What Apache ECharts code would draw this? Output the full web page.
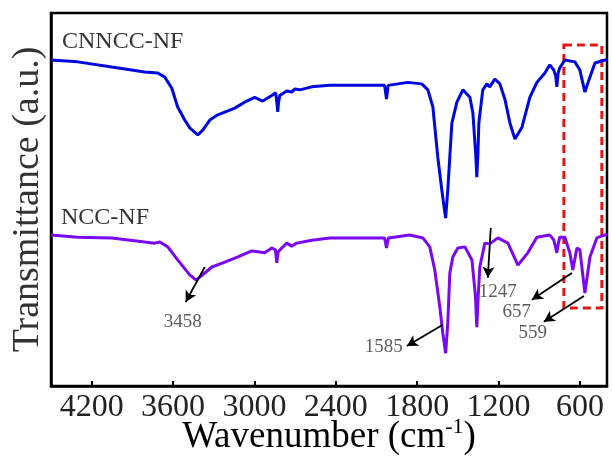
<!DOCTYPE html>
<html lang="en">
<head>
  <meta charset="UTF-8">
  <title>FTIR</title>
  <style type="text/css">
    * { margin: 0; padding: 0; }
    html, body { width: 100%; height: 100%; overflow: hidden; background: #fff; }
    #main { width: 612px; height: 459px; }
  </style>
  <script type="text/javascript" src="https://cdn.jsdelivr.net/npm/echarts@6/dist/echarts.min.js"></script>
</head>
<body>
<div id="main"></div>
<script type="text/javascript">
  // spectra: [wavenumber, transmittance (a.u.)]
  var cnnccNF = [[4500,87.4],[4303,86.9],[4052,85.5],[3809,84.2],[3713,83.9],[3661,82.8],[3610,79.9],[3566,74.8],
    [3514,71.3],[3477,69.2],[3418,67.3],[3381,68.6],[3329,71.3],[3270,72.7],[3145,74.5],[3057,76.4],[2998,77.4],
    [2939,76.4],[2872,77.9],[2843,78.6],[2833,75.5],[2828,73.5],[2822,76],[2813,77.9],[2762,79.1],[2725,78.8],
    [2703,79.6],[2666,79.4],[2577,80.2],[2444,80.6],[2040,80.6],[2026,76.9],[2014,80.6],[1869,81.4],[1766,81.0],
    [1721,79.4],[1684,74.8],[1648,61.4],[1618,52.5],[1590,45.0],[1574,52.5],[1544,70.5],[1507,76.1],[1463,79.4],
    [1411,77.4],[1389,73.2],[1368,62],[1360,56.0],[1352,62],[1345,70.5],[1316,79.4],[1286,81.0],[1264,80.2],
    [1227,82.3],[1190,81.0],[1153,76.9],[1116,70.5],[1079,66.2],[1027,69.4],[969,77.4],[917,81.4],[858,83.9],
    [822,86.1],[792,84.7],[778,83],[770,80.2],[760,84],[748,85.3],[711,87.4],[637,86.9],[600,84.7],[563,78.8],
    [534,82.0],[489,86.6],[416,87.4],[400,87.4]];

  var nccNF = [[4500,40.5],[4303,39.9],[4052,39.7],[3809,38.6],[3735,38.3],[3698,38.6],[3639,37.3],[3566,33.8],
    [3477,29.8],[3430,28.4],[3366,30.3],[3314,31.9],[3218,33.2],[3122,34.6],[3019,36.2],[2961,35.9],[2924,35.7],
    [2872,37.0],[2845,36.5],[2835,33.0],[2825,36],[2813,36.5],[2762,38.3],[2725,37.5],[2688,38.3],[2577,39.1],
    [2444,39.7],[2040,39.7],[2026,37.0],[2012,39.7],[1854,40.5],[1758,39.7],[1707,37.3],[1670,31.1],[1633,21.2],
    [1611,14.2],[1590,8.8],[1574,16.9],[1559,30.3],[1537,34.6],[1500,37.0],[1448,37.3],[1396,33.8],[1370,24],
    [1360,15.8],[1350,24],[1338,31.9],[1301,38.3],[1264,38.1],[1205,39.7],[1131,38.3],[1057,32.4],[984,35.7],
    [917,39.9],[822,40.5],[792,39.1],[778,37],[770,35.7],[760,38],[748,39.9],[711,39.9],[674,35.7],[652,31.1],
    [622,37.0],[600,36.5],[563,24.9],[526,34.6],[475,39.7],[416,40.5],[400,40.5]];

  var xTicks = [4200, 3600, 3000, 2400, 1800, 1200, 600];

  // peak labels and arrows (from -> to), in data units
  var peakLabels = [[3529,17.2,'3458'],[2046,10.5,'1585'],[1205,25.2,'1247'],[1065,19.8,'657'],[947,14.2,'559']];
  var peakArrows = [
    [[3366,31.9],[3507,22.5]],
    [[1611,16.4],[1876,10.7]],
    [[1257,42.4],[1279,29.0]],
    [[659,30.3],[954,23.1]],
    [[570,24.1],[866,17.2]]
  ];
  var boxCorners = [[718,91.4],[438,20.9]];

  var font = 'Liberation Serif';
  var myChart = echarts.init(document.getElementById('main'));

  var option = {
    animation: false,
    backgroundColor: '#fff',
    grid: {
      left: 51, right: 5, top: 13, bottom: 73,
      show: true, borderColor: '#000', borderWidth: 2.5,
      outerBoundsMode: 'none'
    },
    xAxis: {
      type: 'value',
      inverse: true,
      min: 400,
      max: 4500,
      name: 'Wavenumber (cm{sup|-1})',
      nameLocation: 'middle',
      nameGap: 30,
      nameMoveOverlap: false,
      nameTextStyle: {
        fontFamily: font, fontSize: 37, color: '#000',
        rich: { sup: { fontFamily: font, fontSize: 22, color: '#000', padding: [0, 0, 20, 0] } }
      },
      axisLine: { show: true, lineStyle: { color: '#000', width: 2.5 } },
      axisTick: { show: true, inside: true, length: 5, customValues: xTicks, lineStyle: { color: '#000', width: 2 } },
      axisLabel: {
        show: true, customValues: xTicks, margin: 6, fontFamily: font, fontSize: 32, color: '#222',
        formatter: function (v) { return String(v); }
      },
      splitLine: { show: false }
    },
    yAxis: {
      type: 'value',
      min: 0,
      max: 100,
      name: 'Transmittance (a.u.)',
      nameLocation: 'middle',
      nameGap: 4,
      nameMoveOverlap: false,
      nameTextStyle: { fontFamily: font, fontSize: 38, color: '#333' },
      axisLine: { show: true, lineStyle: { color: '#000', width: 2.5 } },
      axisTick: { show: false },
      axisLabel: { show: false },
      splitLine: { show: false }
    },
    graphic: [
      { type: 'text', left: 62, top: 30, style: { text: 'CNNCC-NF', fontFamily: font, fontSize: 24, fill: '#333' } },
      { type: 'text', left: 61, top: 206, style: { text: 'NCC-NF', fontFamily: font, fontSize: 24, fill: '#333' } }
    ],
    series: [
      {
        name: 'CNNCC-NF',
        type: 'line',
        data: cnnccNF,
        showSymbol: false,
        lineStyle: { color: '#0008e0', width: 3 }
      },
      {
        name: 'NCC-NF',
        type: 'line',
        data: nccNF,
        showSymbol: false,
        lineStyle: { color: '#7a08f0', width: 3 }
      },
      {
        name: 'peaks',
        type: 'scatter',
        z: 5,
        symbolSize: 0,
        data: peakLabels,
        label: {
          show: true,
          position: 'inside',
          formatter: function (p) { return p.data[2]; },
          fontFamily: font, fontSize: 19, color: '#333'
        },
        markLine: {
          silent: true,
          symbol: ['none', 'arrow'],
          symbolSize: [9, 11],
          label: { show: false },
          lineStyle: { color: '#000', width: 1.8, type: 'solid' },
          data: peakArrows.map(function (a) { return [{ coord: a[0] }, { coord: a[1] }]; })
        },
        markArea: {
          silent: true,
          itemStyle: { color: 'rgba(0,0,0,0)', borderColor: '#e01818', borderWidth: 3, borderType: [8, 5] },
          data: [[{ coord: boxCorners[0] }, { coord: boxCorners[1] }]]
        }
      }
    ]
  };
  myChart.setOption(option);
</script>
</body>
</html>
